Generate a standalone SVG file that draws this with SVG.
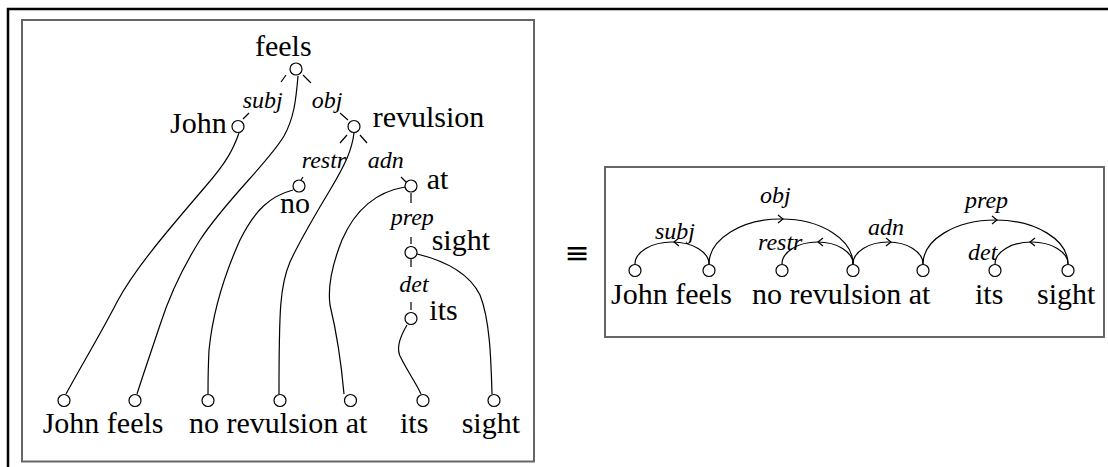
<svg xmlns="http://www.w3.org/2000/svg" width="1108" height="467" viewBox="0 0 1108 467">
<style>
.w{font-family:"Liberation Serif","DejaVu Serif","Noto Serif",Times,serif;font-size:30px;fill:#000}
.l{font-family:"Liberation Serif","DejaVu Serif","Noto Serif",Times,serif;font-size:24px;font-style:italic;fill:#000}
.n{fill:#fff;stroke:#000;stroke-width:1.2}
.c{fill:none;stroke:#000;stroke-width:1.2}
.box{fill:none;stroke:#666;stroke-width:2}
</style>
<rect x="0" y="0" width="1108" height="467" fill="#fff"/>
<rect x="8" y="9" width="1110" height="470" fill="none" stroke="#000" stroke-width="2.5"/>
<rect class="box" x="22" y="20" width="512" height="441.5"/>
<rect class="box" x="605" y="167" width="499" height="170"/>

<g id="connectors">
  <path class="c" d="M286,75 L281,82 M303,75 L311,83"/>
  <path class="c" d="M243,119 L249,113"/>
  <path class="c" d="M340,113 L348,120 M347,135 L340,143 M360,135 L367,143"/>
  <path class="c" d="M303,177 L301,180"/>
  <path class="c" d="M401,177 L406,182 M411,193 L411,203"/>
  <path class="c" d="M411,237 L411,244 M411,259 L411,267"/>
  <path class="c" d="M411,302 L411,310"/>
  <path class="c" d="M239,133 C233,150 226,163 205,187 C170,228 135,268 117,302 C100,335 80,368 66,394"/>
  <path class="c" d="M298,76 C296,100 294,118 284,136 C268,163 226,200 200,240 C178,275 168,300 160,325 C150,355 143,375 137,394"/>
  <path class="c" d="M293,190 C270,196 255,210 240,240 C222,280 212,320 209,350 C208,370 208,385 208,394"/>
  <path class="c" d="M354,133 C352,150 345,165 330,190 C315,215 300,240 290,262 C280,285 279,310 279,394"/>
  <path class="c" d="M405,187 C375,192 355,210 342,240 C330,270 328,290 330,305 C336,330 341,360 344,394"/>
  <path class="c" d="M407,325 C398,340 396,350 401,358 C408,372 416,383 421,394"/>
  <path class="c" d="M417,254 C450,262 470,275 480,295 C490,320 491,360 492,394"/>
  <g transform="translate(0,3)">
    <path class="c" d="M635,261 A37,22 0 0 1 709,261"/>
    <path class="c" d="M709,261 A72,45 0 0 1 853,261"/>
    <path class="c" d="M782,261 A35.5,22 0 0 1 853,261"/>
    <path class="c" d="M853,261 A35,22 0 0 1 923,261"/>
    <path class="c" d="M923,261 A72.5,44 0 0 1 1068,261"/>
    <path class="c" d="M995,261 A36.5,22 0 0 1 1068,261"/>
    <path class="c" d="M679,235 L674,239 L679,243"/>
    <path class="c" d="M778,212 L783,216 L778,220"/>
    <path class="c" d="M823,235 L818,239 L823,243"/>
    <path class="c" d="M886,235 L891,239 L886,243"/>
    <path class="c" d="M992,213 L997,217 L992,221"/>
    <path class="c" d="M1035,235 L1030,239 L1035,243"/>
  </g>
</g>

<g id="tree-labels">
  <text class="l" x="242.7" y="108">subj</text>
  <text class="l" x="311.7" y="108">obj</text>
  <text class="l" x="301.7" y="167.7">restr</text>
  <text class="l" x="367.7" y="167.7">adn</text>
  <text class="l" x="390.7" y="225">prep</text>
  <text class="l" x="399.3" y="291.7">det</text>
</g>

<g id="t-feels"><circle class="n" cx="296" cy="69" r="6"/><text class="w" x="255" y="56">feels</text></g>
<g id="t-john"><circle class="n" cx="238" cy="126.5" r="6"/><text class="w" x="170" y="133">John</text></g>
<g id="t-revulsion"><circle class="n" cx="354" cy="126.5" r="6"/><text class="w" x="372.7" y="127.3">revulsion</text></g>
<g id="t-no"><circle class="n" cx="299" cy="186" r="6"/><text class="w" x="280" y="213.3">no</text></g>
<g id="t-at"><circle class="n" cx="411" cy="186" r="6"/><text class="w" x="426.7" y="189.3">at</text></g>
<g id="t-sight"><circle class="n" cx="411" cy="252.5" r="6"/><text class="w" x="431.7" y="250">sight</text></g>
<g id="t-its"><circle class="n" cx="411" cy="318.5" r="6"/><text class="w" x="429.3" y="320">its</text></g>

<g id="tree-words">
  <circle class="n" cx="64" cy="400.5" r="6"/>
  <circle class="n" cx="135" cy="400.5" r="6"/>
  <circle class="n" cx="208" cy="400.5" r="6"/>
  <circle class="n" cx="280" cy="400.5" r="6"/>
  <circle class="n" cx="350.5" cy="400.5" r="6"/>
  <circle class="n" cx="423" cy="400.5" r="6"/>
  <circle class="n" cx="494" cy="400.5" r="6"/>
  <text class="w" x="42.7" y="433">John feels</text>
  <text class="w" x="189" y="433">no revulsion at</text>
  <text class="w" x="400" y="433">its</text>
  <text class="w" x="461.7" y="433">sight</text>
</g>

<g id="equiv"><text x="577" y="263" text-anchor="middle" font-family="DejaVu Sans, sans-serif" font-size="30">≡</text></g>

<g id="arc-labels" transform="translate(0,3)">
  <text class="l" x="655" y="236">subj</text>
  <text class="l" x="760" y="200">obj</text>
  <text class="l" x="758" y="247">restr</text>
  <text class="l" x="868" y="232">adn</text>
  <text class="l" x="965" y="205">prep</text>
  <text class="l" x="968" y="257">det</text>
</g>

<g id="arc-words" transform="translate(0,3)">
  <circle class="n" cx="635" cy="267.5" r="6"/>
  <circle class="n" cx="709" cy="267.5" r="6"/>
  <circle class="n" cx="782" cy="267.5" r="6"/>
  <circle class="n" cx="853" cy="267.5" r="6"/>
  <circle class="n" cx="923" cy="267.5" r="6"/>
  <circle class="n" cx="995" cy="267.5" r="6"/>
  <circle class="n" cx="1068" cy="267.5" r="6"/>
  <text class="w" x="611" y="301">John feels</text>
  <text class="w" x="752" y="301">no revulsion at</text>
  <text class="w" x="975" y="301">its</text>
  <text class="w" x="1037" y="301">sight</text>
</g>
</svg>
